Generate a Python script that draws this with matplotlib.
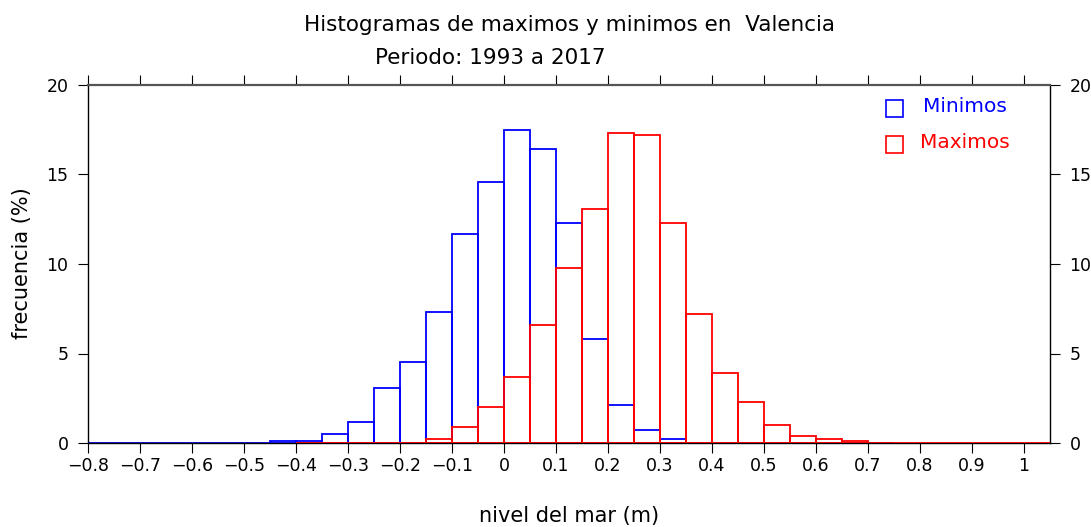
import numpy as np
import matplotlib
matplotlib.use("Agg")
import matplotlib.pyplot as plt
from matplotlib.patches import Rectangle

# Bin edges (width 0.05)
min_bin_left = np.round(np.arange(-0.80, 0.75, 0.05), 2)
min_vals = [0, 0, 0, 0, 0, 0, 0,
            0.1, 0.1, 0.5, 1.2, 3.1, 4.5, 7.3, 11.7, 14.6,
            17.5, 16.4, 12.3, 5.8, 2.1, 0.7, 0.2,
            0, 0, 0, 0, 0, 0, 0, 0]
max_bin_left = np.round(np.arange(-0.40, 1.05, 0.05), 2)
max_vals = [0, 0, 0, 0, 0, 0.2, 0.9, 2.0,
            3.7, 6.6, 9.8, 13.1, 17.3, 17.2, 12.3, 7.2,
            3.9, 2.3, 1.0, 0.4, 0.2, 0.1,
            0, 0, 0, 0, 0, 0, 0]
bin_width = 0.05

xticks = np.round(np.arange(-0.8, 1.01, 0.1), 1)
xticklabels = ["\u22120.8", "\u22120.7", "\u22120.6", "\u22120.5", "\u22120.4", "\u22120.3",
               "\u22120.2", "\u22120.1", "0", "0.1", "0.2", "0.3", "0.4", "0.5", "0.6",
               "0.7", "0.8", "0.9", "1"]
yticks = [0, 5, 10, 15, 20]

BLUE = "#0000ff"
RED = "#ff0000"

fig = plt.figure(figsize=(10.91, 5.27), dpi=100)
ax = fig.add_axes([88/1091, 84/527, 962/1091, 358/527])

ax.bar(min_bin_left[:len(min_vals)], min_vals, width=bin_width, align="edge",
       fill=False, edgecolor=BLUE, linewidth=1.3, zorder=2)
ax.bar(max_bin_left[:len(max_vals)], max_vals, width=bin_width, align="edge",
       fill=False, edgecolor=RED, linewidth=1.3, zorder=3)

ax.set_xlim(-0.8, 1.05)
ax.set_ylim(0, 20)
ax.set_xticks(xticks)
ax.set_xticklabels(xticklabels)
ax.set_yticks(yticks)
ax.tick_params(axis="x", which="both", direction="out", length=7, top=True,
               labeltop=False, labelsize=12.5, pad=3)
ax.tick_params(axis="y", which="both", direction="out", length=7, right=True,
               labelright=True, labelsize=12.5, pad=7)
ax.spines["top"].set_color("#555555")
ax.spines["top"].set_linewidth(1.6)
for s in ["left", "right", "bottom"]:
    ax.spines[s].set_linewidth(1.0)

fig.text(569/1091, 1 - 516/527, "nivel del mar (m)", ha="center", va="center",
         fontsize=15)
fig.text(22/1091, 1 - 263/527, "frecuencia (%)", ha="center", va="center",
         rotation=90, fontsize=15)

fig.text(569/1091, 1 - 25/527, "Histogramas de maximos y minimos en  Valencia",
         ha="center", va="center", fontsize=15.5)
fig.text(375/1091, 1 - 58/527, "Periodo: 1993 a 2017",
         ha="left", va="center", fontsize=15.5)

# Legend (manual, boxes + text)
for (yc, col, lab, tx) in [(107, BLUE, "Minimos", 923), (143, RED, "Maximos", 920)]:
    ax.add_patch(Rectangle((886/1091, 1 - (yc + 10)/527), 17/1091, 17/527,
                           transform=fig.transFigure, fill=False,
                           edgecolor=col, linewidth=1.2, clip_on=False))
    fig.text(tx/1091, 1 - yc/527, lab, color=col, fontsize=14.5, ha="left", va="center")

fig.savefig("out.png", dpi=100)
